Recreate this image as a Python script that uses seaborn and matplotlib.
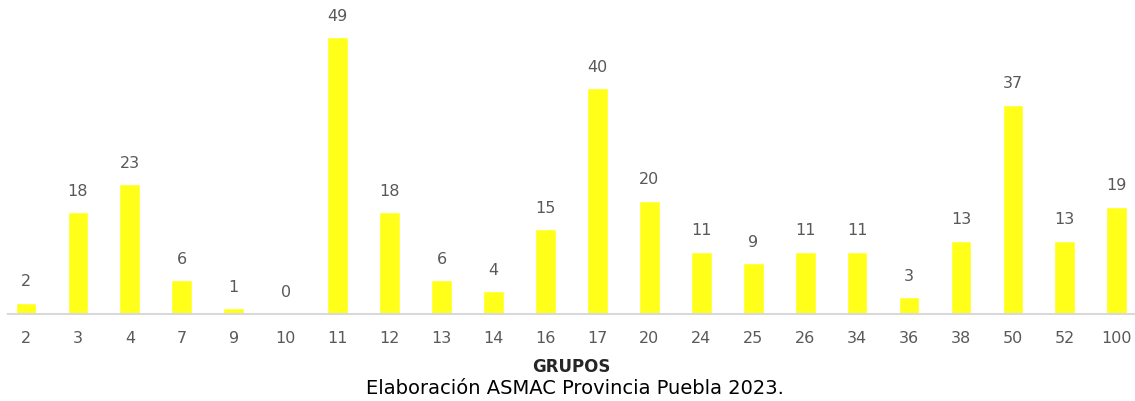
import matplotlib
matplotlib.use('Agg')
import matplotlib.pyplot as plt
import seaborn as sns
import pandas as pd

grupos = ['2', '3', '4', '7', '9', '10', '11', '12', '13', '14', '16', '17',
          '20', '24', '25', '26', '34', '36', '38', '50', '52', '100']
valores = [2, 18, 23, 6, 1, 0, 49, 18, 6, 4, 15, 40,
           20, 11, 9, 11, 11, 3, 13, 37, 13, 19]

data = pd.DataFrame({'grupo': grupos, 'valor': valores})

sns.set_style('white')
plt.rcParams['font.family'] = ['DejaVu Sans']

fig = plt.figure(figsize=(11.35, 4.01), dpi=100)
ax = fig.add_axes([8 / 1135, 87 / 401, 1127 / 1135, 314 / 401])

sns.barplot(x='grupo', y='valor', data=data, color='#FFFF19', width=0.4,
            saturation=1, ax=ax)

for i, v in enumerate(valores):
    ax.text(i, v + 2.4, str(v), ha='center', va='bottom', fontsize=11.5, color='#595959')

ax.set_xlim(-0.346, 21.35)
ax.set_ylim(0, 55.6)
ax.set_yticks([])
ax.set_ylabel('')
ax.set_xlabel('')
for s in ['top', 'right', 'left']:
    ax.spines[s].set_visible(False)
ax.spines['bottom'].set_color('#D9D9D9')
ax.spines['bottom'].set_linewidth(1.5)
ax.tick_params(axis='x', length=0, labelsize=11.5, labelcolor='#595959', pad=12)

fig.text(571 / 1135, 1 - 367 / 401, 'GRUPOS', ha='center', va='center',
         fontsize=12, fontweight='bold', color='#262626')
fig.text(575 / 1135, 1 - 388 / 401, 'Elaboración ASMAC Provincia Puebla 2023.', ha='center',
         va='center', fontsize=14, color='black')

fig.savefig('out.png', dpi=100)
